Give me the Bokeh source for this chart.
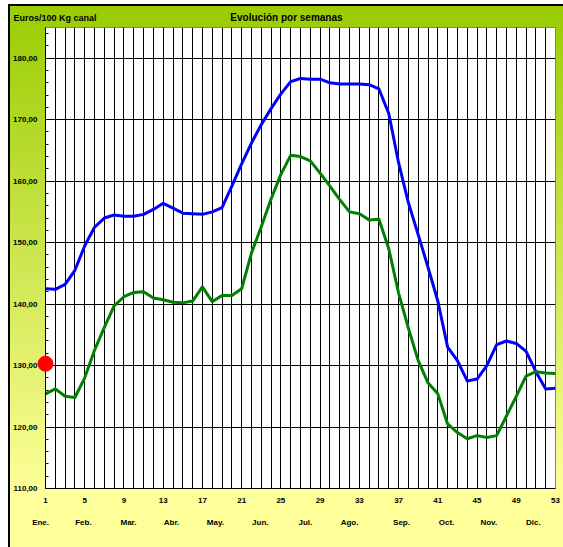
from bokeh.plotting import figure
from bokeh.models import FixedTicker, Range1d, ColumnDataSource
from bokeh.core.properties import value
from bokeh.embed import file_html
from bokeh.resources import INLINE

# ---------------- data ----------------
weeks = list(range(1, 54))
price_blue = [142.5, 142.4, 143.2, 145.5, 149.5, 152.5, 154.0, 154.5, 154.3, 154.3,
              154.6, 155.4, 156.4, 155.6, 154.8, 154.7, 154.6, 155.0, 155.7, 159.2,
              162.8, 166.2, 169.2, 171.8, 174.2, 176.2, 176.7, 176.6, 176.6, 176.0,
              175.8, 175.8, 175.8, 175.7, 175.0, 171.0, 163.0, 156.5, 151.3, 146.0,
              140.5, 133.0, 130.8, 127.5, 127.8, 130.0, 133.4, 134.0, 133.6, 132.3,
              129.0, 126.2, 126.3]
price_green = [125.4, 126.2, 125.0, 124.8, 128.0, 132.5, 136.2, 139.7, 141.2, 141.9,
               142.0, 141.0, 140.7, 140.3, 140.2, 140.5, 142.8, 140.4, 141.4, 141.4,
               142.5, 148.3, 152.6, 157.1, 161.1, 164.2, 164.0, 163.3, 161.3, 159.2,
               157.0, 155.0, 154.7, 153.7, 153.8, 149.0, 141.8, 136.1, 130.8, 127.2,
               125.4, 120.5, 119.1, 118.1, 118.6, 118.3, 118.6, 121.8, 125.0, 128.3,
               129.0, 128.8, 128.7]
current_week = [1]
current_price = [130.3]

x_tick_weeks = [1, 5, 9, 13, 17, 21, 25, 29, 33, 37, 41, 45, 49, 53]
y_ticks = [110, 120, 130, 140, 150, 160, 170, 180]
y_tick_labels = ["110,00", "120,00", "130,00", "140,00", "150,00", "160,00", "170,00", "180,00"]
month_names = ["Ene.", "Feb.", "Mar.", "Abr.", "May.", "Jun.", "Jul.", "Ago.",
               "Sep.", "Oct.", "Nov.", "Dic."]
month_weeks = [0.5, 4.87, 9.46, 13.85, 18.33, 22.9, 27.5, 32.0, 37.3, 41.9, 46.2, 50.75]

FONT = "Liberation Sans"

source = ColumnDataSource(dict(week=weeks, blue=price_blue, green=price_green))

p = figure(width=563, height=547, x_range=Range1d(1, 53), y_range=Range1d(110, 185),
           output_backend="svg", toolbar_location=None,
           min_border_left=45, min_border_right=8, min_border_top=27, min_border_bottom=59)
p.background_fill_color = "white"
p.border_fill_alpha = 0
p.styles = {
    "background": ("linear-gradient(#000000, #000000) 8px 4px / 100% 2px no-repeat, "
                   "linear-gradient(#000000, #000000) 8px 4px / 2px 100% no-repeat, "
                   "linear-gradient(to bottom, #99cc00 0%, #ffff99 90%) 8px 4px / 100% 100% no-repeat, "
                   "#ffffff"),
}
p.outline_line_color = "#808080"
p.outline_line_width = 1

# axes
p.xaxis.ticker = FixedTicker(ticks=x_tick_weeks, minor_ticks=weeks)
p.yaxis.ticker = FixedTicker(ticks=y_ticks, minor_ticks=list(range(110, 186, 2)))
p.yaxis.major_label_overrides = {t: l for t, l in zip(y_ticks, y_tick_labels)}
for ax in (p.xaxis[0], p.yaxis[0]):
    ax.axis_line_color = "black"
    ax.axis_line_width = 1
    ax.major_tick_in = 0
    ax.major_tick_out = 0
    ax.major_label_text_font = FONT
    ax.major_label_text_font_size = "8px"
    ax.major_label_text_font_style = "bold"
    ax.major_label_text_color = "black"
p.xaxis.major_label_standoff = 9
p.yaxis.major_label_standoff = 8
p.xaxis.minor_tick_in = 0
p.xaxis.minor_tick_out = 0
p.yaxis.minor_tick_in = 3
p.yaxis.minor_tick_out = 0
p.yaxis.minor_tick_line_color = "black"

# grid
p.xgrid.grid_line_color = "black"
p.xgrid.minor_grid_line_color = "black"
p.ygrid.grid_line_color = "black"
p.ygrid.minor_grid_line_color = None

# series
p.line("week", "blue", source=source, line_color="#0000ff", line_width=3, line_join="round")
p.line("week", "green", source=source, line_color="#008000", line_width=3, line_join="round")
p.scatter(current_week, current_price, size=15, fill_color="#ff0000", line_color="#ff0000",
          level="overlay")

# texts outside the frame (overlay level so that they are not clipped)
p.text(x=[25.57], y=[186.6], text=["Evolución por semanas"], text_align="center",
       text_baseline="middle", text_font=value(FONT), text_font_size="10px",
       text_font_style="bold", text_color="black", level="overlay")
p.text(x=[-2.26], y=[186.6], text=["Euros/100 Kg canal"], text_align="left",
       text_baseline="middle", text_font=value(FONT), text_font_size="9px",
       text_font_style="bold", text_color="black", level="overlay")
p.text(x=month_weeks, y=[104.47] * len(month_weeks), text=month_names, text_align="center",
       text_baseline="middle", text_font=value(FONT), text_font_size="8px",
       text_font_style="bold", text_color="black", level="overlay")

open("out.html", "w").write(file_html(p, INLINE))
